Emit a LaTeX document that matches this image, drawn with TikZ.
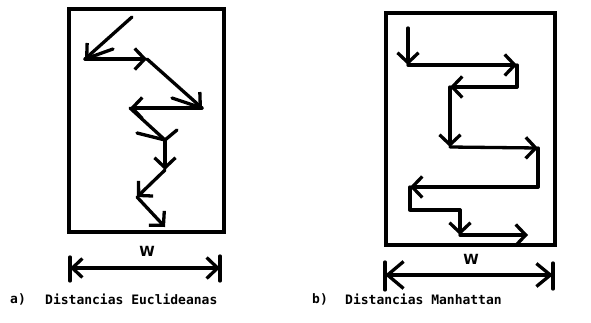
\documentclass[tikz,border=0pt]{standalone}
\usepackage{fontspec}
\setmainfont{DejaVu Sans}
\newfontfamily\capfont{DejaVu Sans Mono}
\usetikzlibrary{arrows.meta}
\begin{document}
\begin{tikzpicture}[x=1pt,y=-1pt,
  ln/.style={line width=3.3pt,line cap=round,line join=round},
  arr/.style={ln,-{Straight Barb[length=10pt,width=21pt,line width=3.3pt]}},
  frame/.style={line width=3.6pt,line join=miter},
  captext/.style={inner sep=0pt,anchor=west,font=\capfont\bfseries\fontsize{13}{15}\selectfont},
  wlab/.style={inner sep=0pt,font=\bfseries\fontsize{14}{16}\selectfont}]
\useasboundingbox (0,0) rectangle (591,322);

% ---------- a) Euclidean ----------
\draw[frame] (69,9) rectangle (224,232);
\coordinate (e0) at (132,17);
\coordinate (e1) at (85,59);
\coordinate (e2) at (147,59);
\coordinate (e3) at (202,108);
\coordinate (e4) at (130,108);
\coordinate (e5) at (165,140);
\coordinate (e6) at (165,170);
\coordinate (e7) at (137,197);
\coordinate (e8) at (165,227);
\coordinate (s1) at (113,49);
\coordinate (s2) at (172,98);
\coordinate (s3) at (137,133);
\coordinate (s4) at (177,130);
\draw[arr] (e0) -- (e1);
\draw[arr] (e1) -- (e2);
\draw[arr] (e2) -- (e3);
\draw[arr] (e3) -- (e4);
\draw[ln] (e4) -- (e5);
\draw[arr] (e5) -- (e6);
\draw[arr] (e6) -- (e7);
\draw[arr] (e7) -- (e8);
\draw[ln] (e1) -- (s1);
\draw[ln] (s2) -- (e3);
\draw[ln] (s3) -- (e5);
\draw[ln] (s4) -- (e5);

% dimension a
\coordinate (da1) at (70,257);
\coordinate (da2) at (70,281);
\coordinate (da3) at (220,256);
\coordinate (da4) at (220,281);
\coordinate (dal) at (70,268);
\coordinate (dar) at (220,268);
\draw[ln] (da1) -- (da2);
\draw[ln] (da3) -- (da4);
\draw[ln,{Straight Barb[length=10pt,width=19pt,line width=3.3pt]}-{Straight Barb[length=11pt,width=21pt,line width=3.3pt]}] (dal) -- (dar);
\node[wlab] (wa) at (147,251) {W};

% ---------- b) Manhattan ----------
\draw[frame] (386,13) rectangle (555,245);
\coordinate (m0) at (408,28);
\coordinate (m1) at (408,65);
\coordinate (m2) at (517,65);
\coordinate (m3) at (517,87);
\coordinate (m4) at (450,87);
\coordinate (m5) at (450,147);
\coordinate (m6) at (538,148);
\coordinate (m7) at (538,187);
\coordinate (m8) at (410,187);
\coordinate (m9) at (410,210);
\coordinate (m10) at (460,210);
\coordinate (m11) at (460,235);
\coordinate (m12) at (528,235);
\draw[arr] (m0) -- (m1);
\draw[arr] (m1) -- (m2);
\draw[ln] (m2) -- (m3);
\draw[arr] (m3) -- (m4);
\draw[arr] (m4) -- (m5);
\draw[arr] (m5) -- (m6);
\draw[ln] (m6) -- (m7);
\draw[arr] (m7) -- (m8);
\draw[ln] (m8) -- (m9) -- (m10);
\draw[arr] (m10) -- (m11);
\draw[arr] (m11) -- (m12);

% dimension b
\coordinate (db1) at (385,262);
\coordinate (db2) at (385,290);
\coordinate (db3) at (553,263);
\coordinate (db4) at (553,289);
\coordinate (dbl) at (385,275);
\coordinate (dbr) at (553,275);
\draw[ln] (db1) -- (db2);
\draw[ln] (db3) -- (db4);
\draw[ln,{Straight Barb[length=16pt,width=27pt,line width=3.3pt]}-{Straight Barb[length=14pt,width=23pt,line width=3.3pt]}] (dbl) -- (dbr);
\node[wlab] (wb) at (471,259) {W};

% captions
\node[captext] (ca) at (10,299) {a)};
\node[captext] (cat) at (45,299) {Distancias Euclideanas};
\node[captext] (cb) at (312,299) {b)};
\node[captext] (cbt) at (345,299) {Distancias Manhattan};
\end{tikzpicture}
\end{document}
